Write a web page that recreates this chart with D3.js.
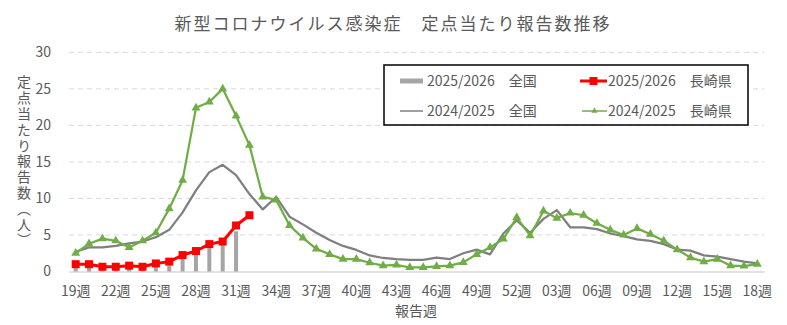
<!DOCTYPE html>
<html lang="ja">
<head>
<meta charset="utf-8">
<script src="https://cdn.jsdelivr.net/npm/d3@7"></script>
<style>
  html, body { margin: 0; padding: 0; background: #fff; }
  svg { display: block; font-family: "Noto Sans CJK JP", "Noto Sans", sans-serif; }
</style>
</head>
<body>
<svg id="chart" width="787" height="325"></svg>
<script>
// Reporting weeks: 19..52, then 01..18 of the following year
const weeks = [
  "19","20","21","22","23","24","25","26","27","28","29","30","31","32","33","34",
  "35","36","37","38","39","40","41","42","43","44","45","46","47","48","49","50",
  "51","52","01","02","03","04","05","06","07","08","09","10","11","12","13","14",
  "15","16","17","18"
];

// Labelled weeks on the x axis
const tickWeeks = ["19","22","25","28","31","34","37","40","43","46","49","52","03","06","09","12","15","18"];

// 2025/2026 全国 (bars)
const national2526 = [0.6, 0.6, 0.5, 0.5, 0.5, 0.5, 0.6, 0.8, 1.8, 2.5, 3.2, 3.8, 5.5];

// 2025/2026 長崎県
const nagasaki2526 = [1.0, 1.0, 0.65, 0.65, 0.8, 0.65, 1.1, 1.35, 2.25, 2.8, 3.75, 4.1, 6.3, 7.7];

// 2024/2025 全国
const national2425 = [
  2.7, 3.3, 3.3, 3.5, 3.85, 4.1, 4.7, 5.7, 8.1, 11.1, 13.6, 14.6, 13.2, 10.6, 8.5, 10.2,
  7.5, 6.45, 5.3, 4.3, 3.5, 2.95, 2.2, 1.85, 1.7, 1.6, 1.6, 1.9, 1.7, 2.5, 3.0, 2.35,
  5.2, 7.0, 5.3, 7.2, 8.4, 6.05, 6.05, 5.8, 5.2, 4.85, 4.4, 4.2, 3.75, 3.0, 2.85, 2.2,
  2.05, 1.7, 1.35, 1.1
];

// 2024/2025 長崎県
const nagasaki2425 = [
  2.5, 3.8, 4.5, 4.2, 3.3, 4.2, 5.3, 8.6, 12.5, 22.4, 23.2, 25.0, 21.3, 17.3, 10.2, 9.8,
  6.3, 4.6, 3.1, 2.35, 1.7, 1.7, 1.2, 0.8, 0.9, 0.55, 0.55, 0.7, 0.8, 1.25, 2.35, 3.3,
  4.45, 7.4, 4.9, 8.3, 7.3, 8.0, 7.7, 6.6, 5.7, 5.0, 5.9, 5.1, 4.2, 3.0, 1.9, 1.35,
  1.7, 0.8, 0.75, 1.0
];

const yTicks = [0, 5, 10, 15, 20, 25, 30];

const title = "新型コロナウイルス感染症\u3000定点当たり報告数推移";
const yTitle = "定点当たり報告数（人）";
const xTitle = "報告週";
const seriesNames = [
  "2025/2026\u3000全国",
  "2025/2026\u3000長崎県",
  "2024/2025\u3000全国",
  "2024/2025\u3000長崎県"
];

const colors = {
  bar: "#a5a5a5",
  red: "#ff0000",
  gray: "#7f7f7f",
  green: "#70ad47",
  grid: "#d9d9d9",
  text: "#595959"
};

const svg = d3.select("#chart");

const x = d3.scaleBand().domain(weeks).range([69, 764]).paddingInner(0).paddingOuter(0);
const y = d3.scaleLinear().domain([0, 30]).range([271.5, 52.3]);
const cx = w => x(w) + x.bandwidth() / 2;

// Title
svg.append("text")
  .attr("x", 393).attr("y", 30)
  .attr("text-anchor", "middle")
  .attr("font-size", 17)
  .attr("letter-spacing", 2)
  .attr("fill", colors.text)
  .text(title);

// Horizontal gridlines
svg.append("g")
  .selectAll("line")
  .data(yTicks.filter(d => d > 0))
  .join("line")
  .attr("x1", 69).attr("x2", 764)
  .attr("y1", d => y(d)).attr("y2", d => y(d))
  .attr("stroke", colors.grid)
  .attr("stroke-width", 1)
  .attr("stroke-dasharray", "5,4");

// Y axis labels
const yAxis = svg.append("g")
  .attr("transform", "translate(55,0)")
  .call(d3.axisLeft(y).tickValues(yTicks).tickSize(0).tickPadding(4));
yAxis.select(".domain").remove();
yAxis.selectAll("text")
  .attr("font-size", 14)
  .attr("font-family", "\"Noto Sans CJK JP\", sans-serif")
  .attr("fill", colors.text);

// Y axis title (vertical)
svg.append("text")
  .attr("x", 24).attr("y", 75)
  .attr("font-size", 14)
  .attr("letter-spacing", 1.8)
  .attr("fill", colors.text)
  .style("writing-mode", "vertical-rl")
  .text(yTitle);

// X axis
const xAxis = svg.append("g")
  .attr("transform", `translate(0,${y(0)})`)
  .call(d3.axisBottom(x).tickValues(tickWeeks).tickSize(0).tickFormat(d => d + "週"));
xAxis.select(".domain").attr("stroke", colors.grid).attr("stroke-width", 1.5);
xAxis.selectAll("text")
  .attr("y", 24).attr("dy", 0)
  .attr("font-size", 14)
  .attr("font-family", "\"Noto Sans CJK JP\", sans-serif")
  .attr("fill", colors.text);

// X axis title
svg.append("text")
  .attr("x", 416).attr("y", 316)
  .attr("text-anchor", "middle")
  .attr("font-size", 14)
  .attr("fill", colors.text)
  .text(xTitle);

// Bars: 2025/2026 全国
const barW = 4;
svg.append("g")
  .selectAll("rect")
  .data(national2526)
  .join("rect")
  .attr("x", (d, i) => cx(weeks[i]) - barW / 2)
  .attr("width", barW)
  .attr("y", d => y(d))
  .attr("height", d => y(0) - y(d))
  .attr("fill", colors.bar);

const line = d3.line()
  .x((d, i) => cx(weeks[i]))
  .y(d => y(d));

// 2024/2025 全国 line
svg.append("path")
  .datum(national2425)
  .attr("d", line)
  .attr("fill", "none")
  .attr("stroke", colors.gray)
  .attr("stroke-width", 2.25)
  .attr("stroke-linejoin", "round");

// 2024/2025 長崎県 line with triangle markers
svg.append("path")
  .datum(nagasaki2425)
  .attr("d", line)
  .attr("fill", "none")
  .attr("stroke", colors.green)
  .attr("stroke-width", 2.25)
  .attr("stroke-linejoin", "round");
const tri = d3.symbol().type(d3.symbolTriangle).size(34);
svg.append("g")
  .selectAll("path")
  .data(nagasaki2425)
  .join("path")
  .attr("d", tri)
  .attr("transform", (d, i) => `translate(${cx(weeks[i])},${y(d)})`)
  .attr("fill", colors.green);

// 2025/2026 長崎県 line with square markers
svg.append("path")
  .datum(nagasaki2526)
  .attr("d", line)
  .attr("fill", "none")
  .attr("stroke", colors.red)
  .attr("stroke-width", 3)
  .attr("stroke-linejoin", "round");
const sq = 8;
svg.append("g")
  .selectAll("rect")
  .data(nagasaki2526)
  .join("rect")
  .attr("x", (d, i) => cx(weeks[i]) - sq / 2)
  .attr("y", d => y(d) - sq / 2)
  .attr("width", sq).attr("height", sq)
  .attr("fill", colors.red);

// Legend
const legend = svg.append("g");
legend.append("rect")
  .attr("x", 384).attr("y", 65)
  .attr("width", 364).attr("height", 60)
  .attr("fill", "#fff")
  .attr("stroke", "#000")
  .attr("stroke-width", 1.5);

const rows = [81, 111];
const cols = [400, 580];

// bar key
legend.append("rect")
  .attr("x", cols[0]).attr("y", rows[0] - 2.5)
  .attr("width", 23).attr("height", 5)
  .attr("fill", colors.bar);
// red key
legend.append("line")
  .attr("x1", cols[1]).attr("x2", cols[1] + 27)
  .attr("y1", rows[0]).attr("y2", rows[0])
  .attr("stroke", colors.red).attr("stroke-width", 3);
legend.append("rect")
  .attr("x", cols[1] + 13.5 - 4).attr("y", rows[0] - 4)
  .attr("width", 8).attr("height", 8)
  .attr("fill", colors.red);
// gray line key
legend.append("line")
  .attr("x1", cols[0]).attr("x2", cols[0] + 23)
  .attr("y1", rows[1]).attr("y2", rows[1])
  .attr("stroke", colors.gray).attr("stroke-width", 1.5);
// green key
legend.append("line")
  .attr("x1", cols[1] + 2).attr("x2", cols[1] + 27)
  .attr("y1", rows[1]).attr("y2", rows[1])
  .attr("stroke", colors.green).attr("stroke-width", 1.5);
legend.append("path")
  .attr("d", d3.symbol().type(d3.symbolTriangle).size(16))
  .attr("transform", `translate(${cols[1] + 14.5},${rows[1]})`)
  .attr("fill", colors.green);

const legendText = [
  { t: seriesNames[0], x: 427, y: rows[0] },
  { t: seriesNames[1], x: 608, y: rows[0] },
  { t: seriesNames[2], x: 427, y: rows[1] },
  { t: seriesNames[3], x: 608, y: rows[1] }
];
legend.selectAll("text.lt")
  .data(legendText)
  .join("text")
  .attr("class", "lt")
  .attr("x", d => d.x).attr("y", d => d.y + 5)
  .attr("font-size", 14)
  .attr("fill", colors.text)
  .text(d => d.t);
</script>
</body>
</html>
